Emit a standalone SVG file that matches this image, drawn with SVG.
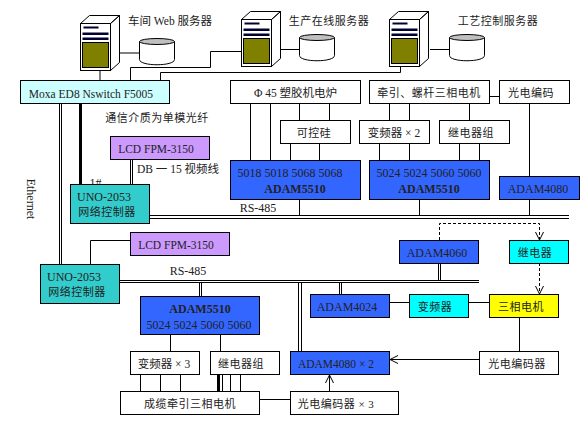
<svg xmlns="http://www.w3.org/2000/svg" width="588" height="433" viewBox="0 0 588 433">
<style>
text{font-family:"Liberation Serif","Noto Sans CJK SC",serif;font-size:12px;fill:#222;text-anchor:middle}
.c{font-size:11px;letter-spacing:.5px}
.m{font-size:11.500px}
.b{font-weight:bold}
.box{stroke:#000;stroke-width:1}
.w{fill:#fff}.blue{fill:#3366ff}.teal{fill:#33cccc}.cy{fill:#00ffff}.lc{fill:#ccffff}.pu{fill:#cc99ff}.ye{fill:#ffff00}
.ln{fill:none;stroke:#000;stroke-width:1}
.dl{fill:none;stroke:#000;stroke-width:1;stroke-dasharray:3 2}
.th{fill:none;stroke:#000;stroke-width:3}
</style>
<defs>
<marker id="a" markerUnits="userSpaceOnUse" markerWidth="10" markerHeight="10" refX="9" refY="5" orient="auto"><path d="M1 1L9 5L1 9" fill="none" stroke="#000"/></marker>
<g id="srv">
<path d="M0 0L9 -8H39L30 0ZM30 0L39 -8V39L30 47Z" fill="#fff" stroke="#000"/>
<rect x="0" y="0" width="30" height="47" fill="#fff" stroke="#000"/>
<rect x="3" y="3" width="15" height="2" fill="#000033"/>
<rect x="2" y="9" width="26" height="2.500" fill="#000033"/>
<rect x="2" y="14" width="26" height="2.500" fill="#000033"/>
<rect x="2" y="19" width="26" height="25" fill="#808000" stroke="#000"/>
</g>
<g id="cyl">
<path d="M0 4V22C0 29 35 29 35 22V4" fill="#fff" stroke="#000"/>
<ellipse cx="17.500" cy="4" rx="17.500" ry="3" fill="#c0c0c0" stroke="#000"/>
</g>
</defs>
<g id="connectors">
<path class="ln" d="M120 53H139M100 70V80M130.500 80V67.500H210.500V51.500H241M280 49.500H299M160.500 80V72.500H400.500V66M430 49.500H449"/>
<path class="ln" d="M250.500 103V160M270.500 103V160M299.500 103V120M329.500 103V120M290.500 143V160M319.500 143V160"/>
<path class="ln" d="M389.500 103V120M409.500 103V120M469.500 103V120M379.500 143V160M409.500 143V160M459.500 143V160M479.500 143V160M489 96.500H499M529.500 103V176"/>
<path class="ln" d="M299.500 199V215M419.500 199V215M529.500 199V215"/>
<path class="ln" d="M149 215.500H569M149 218.500H569"/>
<path class="ln" d="M119 280.500H479M119 282.500H479"/>
<path class="ln" d="M59.500 103V264M61.500 103V264"/>
<path class="th" d="M80.500 103V184"/>
<path class="ln" d="M130.500 159V184M132.500 159V184M90.500 264V240.500H130"/>
<path class="ln" d="M199.500 282V296M201.500 282V296M170.500 334V351M220.500 334V351"/>
<path class="ln" d="M140.500 374V391M160.500 374V391M180.500 374V391M222.500 374V391M230.500 374V391M240.500 374V391"/>
<path class="th" d="M218.500 374V391"/>
<path class="ln" d="M259 399.500H290M298.500 282V351M301.500 282V351M339.500 282V294M341.500 282V294M438.500 263V280M440.500 263V280"/>
<path class="ln" d="M389 302.500H409M468 302.500H489M519.500 317V351"/>
<path class="ln" d="M479 359.500H390" marker-end="url(#a)"/>
<path class="ln" d="M329.500 391V375" marker-end="url(#a)"/>
<path class="dl" d="M439.500 240V223.500H539.500V240" marker-end="url(#a)"/>
<path class="dl" d="M539.500 263V294" marker-end="url(#a)"/>
</g>
<g id="server1"><use href="#srv" x="80.500" y="23.500"/></g>
<g id="disk1"><use href="#cyl" x="139.500" y="37.500"/></g>
<g id="server2"><use href="#srv" x="241.500" y="19.500"/></g>
<g id="disk2"><use href="#cyl" x="299.500" y="33.500"/></g>
<g id="server3"><use href="#srv" x="389.500" y="19.500"/></g>
<g id="disk3"><use href="#cyl" x="449.500" y="33.500"/></g>
<g id="label-web"><text class="m" x="170" y="25">车间 Web 服务器</text></g>
<g id="label-online"><text class="c" x="329" y="25">生产在线服务器</text></g>
<g id="label-craft"><text class="c" x="498" y="25">工艺控制服务器</text></g>
<g id="moxa"><rect class="box lc" x="20.500" y="80.500" width="149" height="23"/><text class="m" x="91" y="98">Moxa ED8 Nswitch F5005</text></g>
<g id="furnace"><rect class="box w" x="230.500" y="80.500" width="130" height="23"/><text class="m" x="295.500" y="97">Φ 45 塑胶机电炉</text></g>
<g id="motor-a"><rect class="box w" x="369.500" y="80.500" width="120" height="23"/><text class="c" x="429" y="97">牵引、螺杆三相电机</text></g>
<g id="encoder-a"><rect class="box w" x="499.500" y="80.500" width="70" height="23"/><text class="c" x="531" y="97">光电编码</text></g>
<g id="scr"><rect class="box w" x="280.500" y="120.500" width="70" height="23"/><text class="c" x="314" y="137">可控硅</text></g>
<g id="vfd2"><rect class="box w" x="359.500" y="120.500" width="70" height="23"/><text class="m" x="394" y="137">变频器 × 2</text></g>
<g id="relays-a"><rect class="box w" x="439.500" y="120.500" width="70" height="23"/><text class="c" x="471" y="137">继电器组</text></g>
<g id="adam-a"><rect class="box blue" x="230.500" y="160.500" width="130" height="39"/><text x="290" y="177">5018 5018 5068 5068</text><text class="b" x="295" y="193">ADAM5510</text></g>
<g id="adam-b"><rect class="box blue" x="369.500" y="160.500" width="120" height="39"/><text x="429" y="177">5024 5024 5060 5060</text><text class="b" x="429" y="193">ADAM5510</text></g>
<g id="adam4080"><rect class="box blue" x="499.500" y="176.500" width="80" height="23"/><text x="538" y="193">ADAM4080</text></g>
<g id="label-fiber"><text class="c" x="157" y="122">通信介质为单模光纤</text></g>
<g id="lcd1"><rect class="box pu" x="110.500" y="136.500" width="99" height="23"/><text class="m" x="156" y="153">LCD FPM-3150</text></g>
<g id="label-db"><text class="m" x="178" y="173">DB 一 15 视频线</text></g>
<g id="label-1"><text x="95.500" y="187">1#</text></g>
<g id="label-eth"><text x="0" y="0" transform="translate(27,199) rotate(90)">Ethernet</text></g>
<g id="uno1"><rect class="box teal" x="70.500" y="184.500" width="79" height="39"/><text x="104" y="201">UNO-2053</text><text class="c" x="107" y="216">网络控制器</text></g>
<g id="label-rs1"><text x="258" y="212">RS-485</text></g>
<g id="lcd2"><rect class="box pu" x="130.500" y="232.500" width="99" height="23"/><text class="m" x="176" y="249">LCD FPM-3150</text></g>
<g id="uno2"><rect class="box teal" x="40.500" y="264.500" width="79" height="39"/><text x="74" y="281">UNO-2053</text><text class="c" x="77" y="296">网络控制器</text></g>
<g id="label-rs2"><text x="188" y="275">RS-485</text></g>
<g id="adam-c"><rect class="box blue" x="140.500" y="296.500" width="119" height="38"/><text class="b" x="200" y="313">ADAM5510</text><text x="199" y="329">5024 5024 5060 5060</text></g>
<g id="vfd3"><rect class="box w" x="130.500" y="351.500" width="69" height="23"/><text class="m" x="164" y="368">变频器 × 3</text></g>
<g id="relays-b"><rect class="box w" x="210.500" y="351.500" width="69" height="23"/><text class="c" x="241" y="368">继电器组</text></g>
<g id="motor-b"><rect class="box w" x="120.500" y="391.500" width="139" height="23"/><text class="c" x="190" y="408">成缆牵引三相电机</text></g>
<g id="encoder3"><rect class="box w" x="290.500" y="391.500" width="108" height="23"/><text class="c" x="336" y="408">光电编码器 × 3</text></g>
<g id="adam4080x2"><rect class="box blue" x="290.500" y="351.500" width="99" height="23"/><text class="m" x="336" y="368">ADAM4080 × 2</text></g>
<g id="adam4024"><rect class="box blue" x="310.500" y="294.500" width="79" height="23"/><text x="347" y="311">ADAM4024</text></g>
<g id="vfd1"><rect class="box cy" x="409.500" y="294.500" width="59" height="23"/><text class="c" x="435" y="311">变频器</text></g>
<g id="motor-c"><rect class="box ye" x="489.500" y="294.500" width="69" height="23"/><text class="c" x="521" y="311">三相电机</text></g>
<g id="adam4060"><rect class="box blue" x="399.500" y="240.500" width="79" height="23"/><text x="437" y="257">ADAM4060</text></g>
<g id="relay"><rect class="box cy" x="509.500" y="240.500" width="59" height="23"/><text class="c" x="535" y="257">继电器</text></g>
<g id="encoder-c"><rect class="box w" x="479.500" y="351.500" width="79" height="23"/><text class="c" x="517" y="368">光电编码器</text></g>
</svg>
